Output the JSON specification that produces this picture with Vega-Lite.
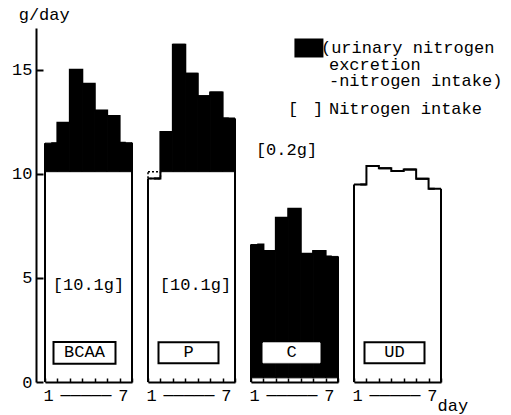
{
"$schema": "https://vega.github.io/schema/vega-lite/v6.json",
"padding": {"left": 11, "top": 6, "right": 5, "bottom": 5},
"spacing": 16,
"bounds": "flush",
"config": {"view": {"stroke": null}, "font": "Liberation Mono", "text": {"font": "Liberation Mono", "fontSize": 17, "fill": "#000"},
  "axisX": {"title": null, "tickBand": "extent", "tickSize": -4, "tickWidth": 1.5, "tickColor": "#000", "domainColor": "#000", "domainWidth": 2, "labelAngle": 0, "labelFont": "Liberation Mono", "labelFontSize": 17, "labelColor": "#000", "labelPadding": 9, "labelOverlap": false, "labelOffset": -3}},
"datasets": {
"bars": [
{"group": "BCAA", "day": 1, "intake": 10.1, "total": 11.47},
{"group": "BCAA", "day": 2, "intake": 10.1, "total": 12.45},
{"group": "BCAA", "day": 3, "intake": 10.1, "total": 15.0},
{"group": "BCAA", "day": 4, "intake": 10.1, "total": 14.32},
{"group": "BCAA", "day": 5, "intake": 10.1, "total": 13.04},
{"group": "BCAA", "day": 6, "intake": 10.1, "total": 12.77},
{"group": "BCAA", "day": 7, "intake": 10.1, "total": 11.49},
{"group": "P", "day": 1, "intake": 10.1, "total": 9.77},
{"group": "P", "day": 2, "intake": 10.1, "total": 12.0},
{"group": "P", "day": 3, "intake": 10.1, "total": 16.2},
{"group": "P", "day": 4, "intake": 10.1, "total": 14.8},
{"group": "P", "day": 5, "intake": 10.1, "total": 13.72},
{"group": "P", "day": 6, "intake": 10.1, "total": 13.9},
{"group": "P", "day": 7, "intake": 10.1, "total": 12.65},
{"group": "C", "day": 1, "intake": 0.2, "total": 6.6},
{"group": "C", "day": 2, "intake": 0.2, "total": 6.29},
{"group": "C", "day": 3, "intake": 0.2, "total": 7.89},
{"group": "C", "day": 4, "intake": 0.2, "total": 8.32},
{"group": "C", "day": 5, "intake": 0.2, "total": 6.16},
{"group": "C", "day": 6, "intake": 0.2, "total": 6.29},
{"group": "C", "day": 7, "intake": 0.2, "total": 6.03},
{"group": "UD", "day": 1, "intake": null, "total": 9.48},
{"group": "UD", "day": 2, "intake": null, "total": 10.37},
{"group": "UD", "day": 3, "intake": null, "total": 10.27},
{"group": "UD", "day": 4, "intake": null, "total": 10.13},
{"group": "UD", "day": 5, "intake": null, "total": 10.21},
{"group": "UD", "day": 6, "intake": null, "total": 9.76},
{"group": "UD", "day": 7, "intake": null, "total": 9.28}
]
},
"hconcat": [
{
"width": 87, "height": 354,
"data": {"name": "bars"},
"transform": [{"filter": "datum.group === 'BCAA'"}],
"encoding": {"x": {"field": "day", "type": "ordinal", "scale": {"paddingInner": 0, "paddingOuter": 0}, "axis": {"labelExpr": "datum.value == 1 ? '1' : datum.value == 7 ? '7' : datum.value == 4 ? '─────' : ''"}},
  "y": {"field": "total", "type": "quantitative", "scale": {"domain": [0, 17], "nice": false}, "axis": {"title": null, "offset": 9, "values": [0, 5, 10, 15], "tickSize": -7, "tickWidth": 2, "tickColor": "#000", "domainColor": "#000", "domainWidth": 2, "grid": false, "labelFont": "Liberation Mono", "labelFontSize": 17, "labelColor": "#000", "labelPadding": 11}}},
"layer": [
{"mark": {"type": "bar", "fill": "#000", "stroke": "#000", "strokeWidth": 1}, "encoding": {"y2": {"field": "intake"}}},
{"mark": {"type": "line", "interpolate": "step", "stroke": "#000", "strokeWidth": 2}},
{"mark": {"type": "rule", "stroke": "#000", "strokeWidth": 2}, "transform": [{"filter": "datum.day == 1"}], "encoding": {"x": {"field": "day", "type": "ordinal", "bandPosition": 0}, "y2": {"datum": 0}}},
{"mark": {"type": "rule", "stroke": "#000", "strokeWidth": 2}, "transform": [{"filter": "datum.day == 7"}], "encoding": {"x": {"field": "day", "type": "ordinal", "bandPosition": 1}, "y2": {"datum": 0}}},
{"mark": {"type": "text", "align": "center", "baseline": "alphabetic", "text": "g/day", "dx": -7, "dy": -8}, "transform": [{"filter": "datum.day == 1"}], "encoding": {"y": {"datum": 17}}},
{"mark": {"type": "text", "align": "center", "baseline": "alphabetic", "text": "[10.1g]"}, "transform": [{"filter": "datum.day == 4"}], "encoding": {"y": {"datum": 4.44}}},
{"mark": {"type": "point", "shape": "M-1,-0.35H1V0.35H-1Z", "size": 3844, "filled": true, "fill": "#fff", "stroke": "#000", "strokeWidth": 2, "opacity": 1, "xOffset": -4}, "transform": [{"filter": "datum.day == 4"}], "encoding": {"y": {"datum": 1.4}}},
{"mark": {"type": "text", "align": "center", "baseline": "alphabetic", "dx": -4}, "transform": [{"filter": "datum.day == 4"}], "encoding": {"y": {"datum": 1.2}, "text": {"field": "group"}}}
]
},
{
"width": 87, "height": 354,
"data": {"name": "bars"},
"transform": [{"filter": "datum.group === 'P'"}],
"encoding": {"x": {"field": "day", "type": "ordinal", "scale": {"paddingInner": 0, "paddingOuter": 0}, "axis": {"labelExpr": "datum.value == 1 ? '1' : datum.value == 7 ? '7' : datum.value == 4 ? '─────' : ''"}},
  "y": {"field": "total", "type": "quantitative", "scale": {"domain": [0, 17], "nice": false}, "axis": null}},
"layer": [
{"mark": {"type": "bar", "fill": "#000", "stroke": "#000", "strokeWidth": 1}, "transform": [{"filter": "datum.total > datum.intake"}], "encoding": {"y2": {"field": "intake"}}},
{"mark": {"type": "bar", "fill": "transparent", "stroke": "#000", "strokeWidth": 1.5, "strokeDash": [2, 2]}, "transform": [{"filter": "datum.total < datum.intake"}], "encoding": {"y2": {"field": "intake"}}},
{"mark": {"type": "bar", "fill": "transparent", "stroke": "#000", "strokeWidth": 2}, "encoding": {"y2": {"field": "total"}}},
{"mark": {"type": "line", "interpolate": "step", "stroke": "#000", "strokeWidth": 2}},
{"mark": {"type": "rule", "stroke": "#000", "strokeWidth": 2}, "transform": [{"filter": "datum.day == 1"}], "encoding": {"x": {"field": "day", "type": "ordinal", "bandPosition": 0}, "y2": {"datum": 0}}},
{"mark": {"type": "rule", "stroke": "#000", "strokeWidth": 2}, "transform": [{"filter": "datum.day == 7"}], "encoding": {"x": {"field": "day", "type": "ordinal", "bandPosition": 1}, "y2": {"datum": 0}}},
{"mark": {"type": "text", "align": "center", "baseline": "alphabetic", "text": "[10.1g]", "dx": 4}, "transform": [{"filter": "datum.day == 4"}], "encoding": {"y": {"datum": 4.44}}},
{"mark": {"type": "point", "shape": "M-1,-0.35H1V0.35H-1Z", "size": 3600, "filled": true, "fill": "#fff", "stroke": "#000", "strokeWidth": 2, "opacity": 1, "xOffset": -3}, "transform": [{"filter": "datum.day == 4"}], "encoding": {"y": {"datum": 1.4}}},
{"mark": {"type": "text", "align": "center", "baseline": "alphabetic", "dx": -3}, "transform": [{"filter": "datum.day == 4"}], "encoding": {"y": {"datum": 1.2}, "text": {"field": "group"}}}
]
},
{
"width": 87, "height": 354,
"data": {"name": "bars"},
"transform": [{"filter": "datum.group === 'C'"}],
"encoding": {"x": {"field": "day", "type": "ordinal", "scale": {"paddingInner": 0, "paddingOuter": 0}, "axis": {"labelExpr": "datum.value == 1 ? '1' : datum.value == 7 ? '7' : datum.value == 4 ? '─────' : ''"}},
  "y": {"field": "total", "type": "quantitative", "scale": {"domain": [0, 17], "nice": false}, "axis": null}},
"layer": [
{"mark": {"type": "bar", "fill": "#000", "stroke": "#000", "strokeWidth": 1}, "encoding": {"y2": {"field": "intake"}}},
{"mark": {"type": "line", "interpolate": "step", "stroke": "#000", "strokeWidth": 2}},
{"mark": {"type": "rule", "stroke": "#000", "strokeWidth": 2}, "transform": [{"filter": "datum.day == 1"}], "encoding": {"x": {"field": "day", "type": "ordinal", "bandPosition": 0}, "y2": {"datum": 0}}},
{"mark": {"type": "rule", "stroke": "#000", "strokeWidth": 2}, "transform": [{"filter": "datum.day == 7"}], "encoding": {"x": {"field": "day", "type": "ordinal", "bandPosition": 1}, "y2": {"datum": 0}}},
{"mark": {"type": "text", "align": "center", "baseline": "alphabetic", "text": "[0.2g]", "dx": -8}, "transform": [{"filter": "datum.day == 4"}], "encoding": {"y": {"datum": 10.88}}},
{"mark": {"type": "point", "shape": "M-1,-0.35H1V0.35H-1Z", "size": 3249, "filled": true, "fill": "#fff", "stroke": "#fff", "strokeWidth": 1, "opacity": 1, "xOffset": -3}, "transform": [{"filter": "datum.day == 4"}], "encoding": {"y": {"datum": 1.4}}},
{"mark": {"type": "text", "align": "center", "baseline": "alphabetic", "dx": -3}, "transform": [{"filter": "datum.day == 4"}], "encoding": {"y": {"datum": 1.2}, "text": {"field": "group"}}},
{"mark": {"type": "point", "shape": "M-1,-0.655H1V0.655H-1Z", "size": 841, "filled": true, "fill": "#000", "opacity": 1, "xOffset": 2}, "transform": [{"filter": "datum.day == 5"}], "encoding": {"y": {"datum": 16.04}}},
{"mark": {"type": "text", "align": "left", "baseline": "alphabetic", "dx": 14, "text": "(urinary nitrogen"}, "transform": [{"filter": "datum.day == 5"}], "encoding": {"y": {"datum": 15.8}}},
{"mark": {"type": "text", "align": "left", "baseline": "alphabetic", "dx": 22, "text": "excretion"}, "transform": [{"filter": "datum.day == 5"}], "encoding": {"y": {"datum": 15.0}}},
{"mark": {"type": "text", "align": "left", "baseline": "alphabetic", "dx": 22, "text": "-nitrogen intake)"}, "transform": [{"filter": "datum.day == 5"}], "encoding": {"y": {"datum": 14.2}}},
{"mark": {"type": "text", "align": "left", "baseline": "alphabetic", "dx": -19, "text": "["}, "transform": [{"filter": "datum.day == 5"}], "encoding": {"y": {"datum": 12.85}}},
{"mark": {"type": "text", "align": "left", "baseline": "alphabetic", "dx": 6, "text": "]"}, "transform": [{"filter": "datum.day == 5"}], "encoding": {"y": {"datum": 12.85}}},
{"mark": {"type": "text", "align": "left", "baseline": "alphabetic", "dx": 22, "text": "Nitrogen intake"}, "transform": [{"filter": "datum.day == 5"}], "encoding": {"y": {"datum": 12.85}}}
]
},
{
"width": 87, "height": 354,
"data": {"name": "bars"},
"transform": [{"filter": "datum.group === 'UD'"}],
"encoding": {"x": {"field": "day", "type": "ordinal", "scale": {"paddingInner": 0, "paddingOuter": 0}, "axis": {"title": "day", "titleFont": "Liberation Mono", "titleFontSize": 17, "titleFontWeight": "normal", "titleColor": "#000", "titleX": 83, "titleY": 28, "titleAlign": "left", "titleBaseline": "alphabetic", "labelExpr": "datum.value == 1 ? '1' : datum.value == 7 ? '7' : datum.value == 4 ? '─────' : ''"}},
  "y": {"field": "total", "type": "quantitative", "scale": {"domain": [0, 17], "nice": false}, "axis": null}},
"layer": [
{"mark": {"type": "bar", "fill": "transparent", "stroke": "#000", "strokeWidth": 2}, "encoding": {"y2": {"field": "total"}}},
{"mark": {"type": "line", "interpolate": "step", "stroke": "#000", "strokeWidth": 2}},
{"mark": {"type": "rule", "stroke": "#000", "strokeWidth": 2}, "transform": [{"filter": "datum.day == 1"}], "encoding": {"x": {"field": "day", "type": "ordinal", "bandPosition": 0}, "y2": {"datum": 0}}},
{"mark": {"type": "rule", "stroke": "#000", "strokeWidth": 2}, "transform": [{"filter": "datum.day == 7"}], "encoding": {"x": {"field": "day", "type": "ordinal", "bandPosition": 1}, "y2": {"datum": 0}}},
{"mark": {"type": "point", "shape": "M-1,-0.35H1V0.35H-1Z", "size": 3600, "filled": true, "fill": "#fff", "stroke": "#000", "strokeWidth": 2, "opacity": 1, "xOffset": -3}, "transform": [{"filter": "datum.day == 4"}], "encoding": {"y": {"datum": 1.4}}},
{"mark": {"type": "text", "align": "center", "baseline": "alphabetic", "dx": -3}, "transform": [{"filter": "datum.day == 4"}], "encoding": {"y": {"datum": 1.2}, "text": {"field": "group"}}}
]
}
]
}
